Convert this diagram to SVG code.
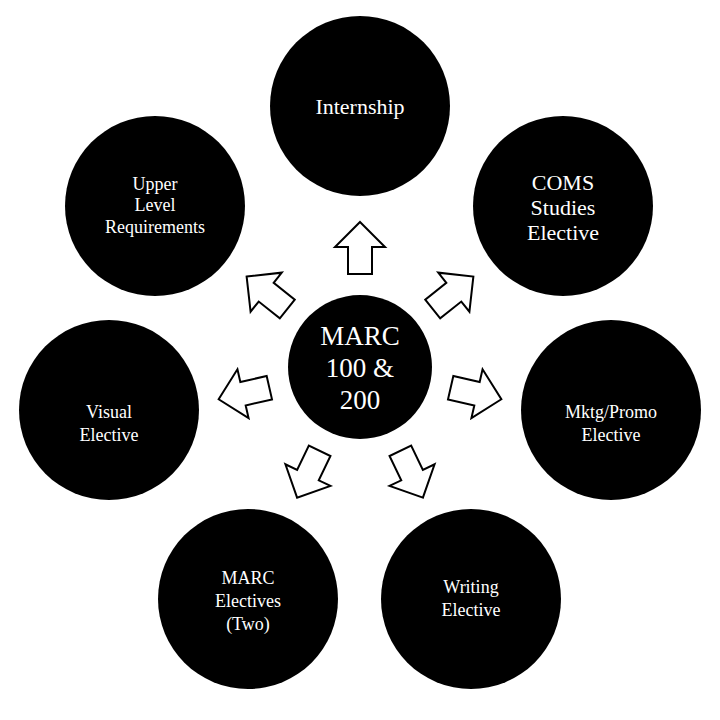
<svg xmlns="http://www.w3.org/2000/svg" width="720" height="720" viewBox="0 0 720 720">
<style>
.c{fill:#000}
.t{fill:#fff;font-family:"Liberation Serif",serif;font-size:20px;text-anchor:middle}
.ct{fill:#fff;font-family:"Liberation Serif",serif;font-size:27px;text-anchor:middle}
.a{fill:#fff;stroke:#000;stroke-width:2;stroke-linejoin:miter}
</style>
<defs><path id="arr" class="a" d="M0,-26 L25,-1 L12,-1 L12,26 L-12,26 L-12,-1 L-25,-1 Z"/></defs>
<rect width="720" height="720" fill="#fff"/>
<g id="connectors">
<use href="#arr" transform="translate(360,248)"/>
<use href="#arr" transform="translate(360,367) rotate(51.43) translate(0,-119)"/>
<use href="#arr" transform="translate(360,367) rotate(102.86) translate(0,-119)"/>
<use href="#arr" transform="translate(360,367) rotate(154.29) translate(0,-119)"/>
<use href="#arr" transform="translate(360,367) rotate(-154.29) translate(0,-119)"/>
<use href="#arr" transform="translate(360,367) rotate(-102.86) translate(0,-119)"/>
<use href="#arr" transform="translate(360,367) rotate(-51.43) translate(0,-119)"/>
</g>
<g id="center"><circle class="c" cx="360" cy="367" r="72"/><text class="ct" x="360" y="345">MARC</text><text class="ct" x="360" y="377">100 &amp;</text><text class="ct" x="360" y="409">200</text></g>
<g id="internship"><circle class="c" cx="360" cy="106" r="90"/><text class="t" x="360" y="114" style="font-size:22px">Internship</text></g>
<g id="coms"><circle class="c" cx="563" cy="206" r="90"/><text class="t" x="563" y="190" style="font-size:22px">COMS</text><text class="t" x="563" y="215" style="font-size:22px">Studies</text><text class="t" x="563" y="240" style="font-size:22px">Elective</text></g>
<g id="mktg"><circle class="c" cx="611" cy="410" r="90"/><text class="t" x="611" y="418" style="font-size:18px">Mktg/Promo</text><text class="t" x="611" y="441" style="font-size:18px">Elective</text></g>
<g id="writing"><circle class="c" cx="471" cy="599" r="90"/><text class="t" x="471" y="593" style="font-size:18px">Writing</text><text class="t" x="471" y="616" style="font-size:18px">Elective</text></g>
<g id="marc-electives"><circle class="c" cx="248" cy="599" r="90"/><text class="t" x="248" y="584" style="font-size:18px">MARC</text><text class="t" x="248" y="607" style="font-size:18px">Electives</text><text class="t" x="248" y="630" style="font-size:18px">(Two)</text></g>
<g id="visual"><circle class="c" cx="109" cy="410" r="90"/><text class="t" x="109" y="418" style="font-size:18px">Visual</text><text class="t" x="109" y="441" style="font-size:18px">Elective</text></g>
<g id="upper"><circle class="c" cx="155" cy="206" r="90"/><text class="t" x="155" y="190" style="font-size:18px">Upper</text><text class="t" x="155" y="211" style="font-size:18px">Level</text><text class="t" x="155" y="233" style="font-size:18px">Requirements</text></g>
</svg>
